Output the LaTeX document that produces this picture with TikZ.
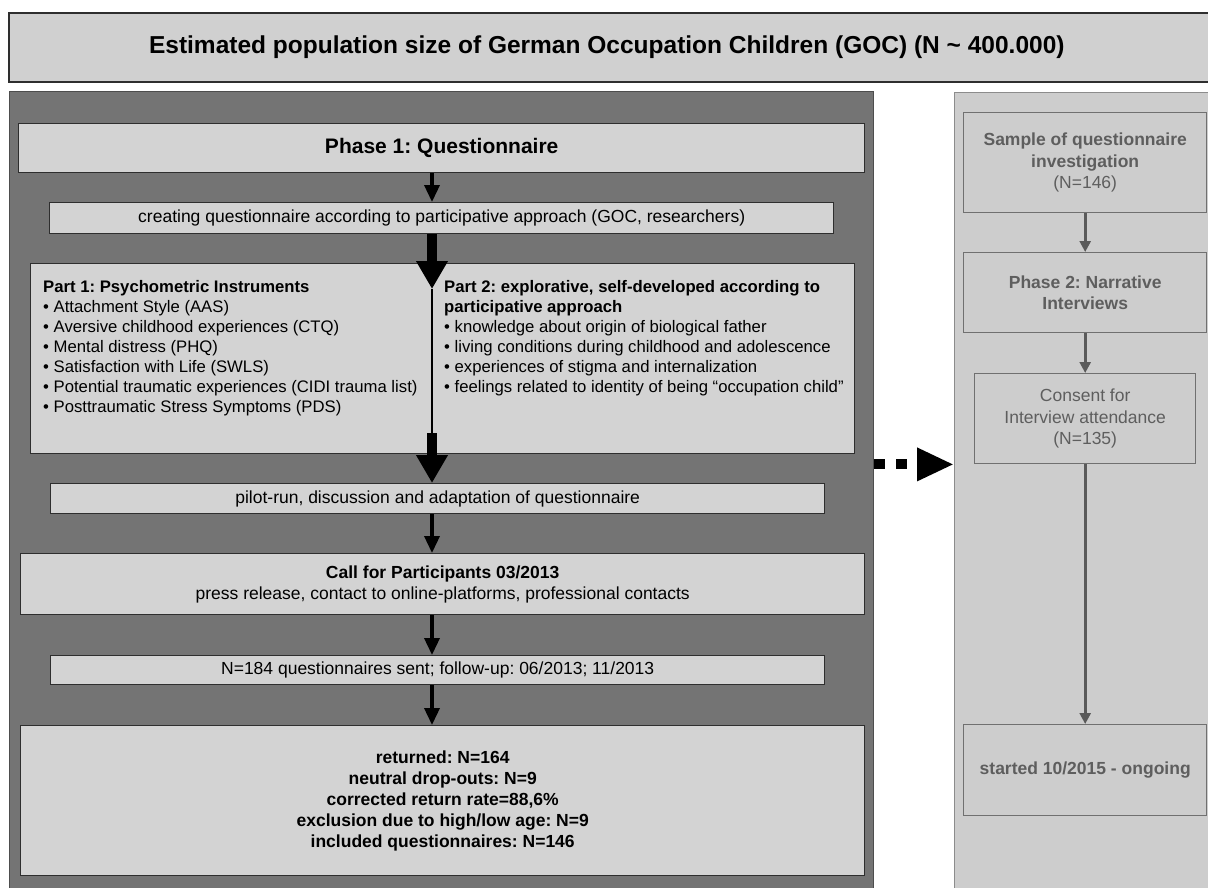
\documentclass[tikz,border=0pt]{standalone}
\usepackage{fontspec}
\setmainfont{Liberation Sans}
\usetikzlibrary{arrows.meta}
\frenchspacing
\definecolor{titlefill}{HTML}{D0D0D0}
\definecolor{darkfill}{HTML}{747474}
\definecolor{boxfill}{HTML}{D3D3D3}
\definecolor{boxline}{HTML}{2E2E2E}
\definecolor{rpfill}{HTML}{CDCDCD}
\definecolor{rpline}{HTML}{8C8C8C}
\definecolor{rbline}{HTML}{707070}
\definecolor{rtext}{HTML}{5E5E5E}
\definecolor{rarrow}{HTML}{5A5A5A}
\begin{document}
\frenchspacing
\begin{tikzpicture}[x=1pt,y=-1pt,
  lbox/.style={draw=boxline, line width=1.4pt, fill=boxfill, inner sep=0pt, anchor=north west, align=center, font=\fontsize{17.5}{21}\selectfont},
  rbox/.style={draw=rbline, line width=1.4pt, fill=rpfill, inner sep=0pt, anchor=north west, align=center, text=rtext, font=\fontsize{17.5}{21.7}\selectfont},
  panel/.style={line width=1.4pt, inner sep=0pt, anchor=north west},
  thinarrow/.style={line width=3.5pt, -{Triangle[length=17pt,width=15pt]}},
  thickarrow/.style={line width=10.5pt, -{Triangle[length=28pt,width=30pt]}},
  grayarrow/.style={draw=rarrow, line width=2.6pt, -{Triangle[length=11pt,width=11pt]}},
  dotarrow/.style={line width=10pt, dash pattern=on 11pt off 11pt, -{Triangle[length=37pt,width=31pt]}},
  parttext/.style={inner sep=0pt, anchor=north west, align=left, font=\fontsize{16.7}{20}\selectfont},
]
\useasboundingbox (0,0) rectangle (1208,887);
\fill[white] (0,0) rectangle (1208,887);

% title
\node[panel, draw=boxline, line width=1.6pt, fill=titlefill, minimum width=1212pt, minimum height=69pt,
      font=\bfseries\fontsize{24.5}{28}\selectfont] (title) at (8,12)
  {Estimated population size of German Occupation Children (GOC) (N \textasciitilde{} 400.000)\hspace*{16pt}};

% panels
\node[panel, draw=boxline!85, fill=darkfill, minimum width=864pt, minimum height=815pt] (darkpanel) at (9,91) {};
\node[panel, draw=rpline, fill=rpfill, minimum width=270pt, minimum height=815pt] (rightpanel) at (954,92) {};

% left column
\node[lbox, minimum width=846pt, minimum height=49pt, font=\bfseries\fontsize{21}{25}\selectfont] (phase1) at (18,123) {Phase 1: Questionnaire};
\node[lbox, minimum width=784pt, minimum height=31pt] (creating) at (49,202) {creating questionnaire according to participative approach (GOC, researchers)};
\node[lbox, minimum width=824pt, minimum height=190pt] (parts) at (30,263) {};
\node[parttext] (part1) at (43,280) {\textbf{Part 1: Psychometric Instruments}\\
  • Attachment Style (AAS)\\
  • Aversive childhood experiences (CTQ)\\
  • Mental distress (PHQ)\\
  • Satisfaction with Life (SWLS)\\
  • Potential traumatic experiences (CIDI trauma list)\\
  • Posttraumatic Stress Symptoms (PDS)};
\node[parttext] (part2) at (444,280) {\textbf{Part 2: explorative, self-developed according to}\\
  \textbf{participative approach}\\
  • knowledge about origin of biological father\\
  • living conditions during childhood and adolescence\\
  • experiences of stigma and internalization\\
  • feelings related to identity of being “occupation child”};
\node[lbox, minimum width=774pt, minimum height=30pt] (pilot) at (50,483) {pilot-run, discussion and adaptation of questionnaire};
\node[lbox, minimum width=844pt, minimum height=61pt] (call) at (20,553) {\textbf{Call for Participants 03/2013}\\press release, contact to online-platforms, professional contacts};
\node[lbox, minimum width=774pt, minimum height=29pt] (sent) at (50,655) {N=184 questionnaires sent; follow-up: 06/2013; 11/2013};
\node[lbox, minimum width=844pt, minimum height=150pt, font=\bfseries\fontsize{17.5}{21}\selectfont] (returned) at (20,725)
  {returned: N=164\\neutral drop-outs: N=9\\corrected return rate=88,6\%\\exclusion due to high/low age: N=9\\included questionnaires: N=146};

% right column
\node[rbox, minimum width=243pt, minimum height=100pt] (sample) at (963,112) {\textbf{Sample of questionnaire}\\\textbf{investigation}\\(N=146)};
\node[rbox, minimum width=243pt, minimum height=80pt, font=\bfseries\fontsize{17.5}{21.7}\selectfont] (phase2) at (963,252) {Phase 2: Narrative\\Interviews};
\node[rbox, minimum width=221pt, minimum height=90pt] (consent) at (974,373) {Consent for\\Interview attendance\\(N=135)};
\node[rbox, minimum width=243pt, minimum height=91pt, font=\bfseries\fontsize{17.5}{21.7}\selectfont] (started) at (963,724) {started 10/2015 - ongoing};

% connectors left
\coordinate (axis) at (432,300);
\coordinate (divtop) at (432,289);
\coordinate (divbot) at (432,433);
\draw[thinarrow] (phase1.south -| axis) -- (creating.north -| axis);
\draw[thickarrow] (creating.south -| axis) -- (divtop);
\draw[line width=1.7pt] (divtop) -- (divbot);
\draw[thickarrow] (divbot) -- (pilot.north -| axis);
\draw[thinarrow] (pilot.south -| axis) -- (call.north -| axis);
\draw[thinarrow] (call.south -| axis) -- (sent.north -| axis);
\draw[thinarrow] (sent.south -| axis) -- (returned.north -| axis);

% connectors right
\draw[grayarrow] (sample.south) -- (phase2.north);
\draw[grayarrow] (phase2.south) -- (consent.north);
\draw[grayarrow] (consent.south) -- (started.north -| consent.south);

% dotted link
\draw[dotarrow] (darkpanel.east |- consent.south) -- (rightpanel.west |- consent.south);
\end{tikzpicture}
\end{document}
